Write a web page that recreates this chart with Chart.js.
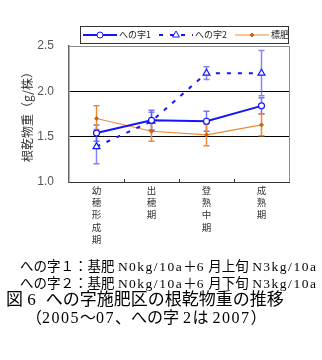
<!DOCTYPE html>
<html>
<head>
<meta charset="utf-8">
<script src="https://cdn.jsdelivr.net/npm/chart.js@4"></script>
<style>
  body { margin: 0; background: #fff; width: 322px; height: 360px; position: relative; overflow: hidden; }
  #wrap { position: absolute; left: 0; top: 0; width: 322px; height: 262px; }
  .note { position: absolute; white-space: nowrap; font-family: "Liberation Serif", "Noto Sans CJK JP", serif; color: #000; }
  .l { letter-spacing: 1.5px; }
  .n1 { left: 20px; top: 259px; font-size: 13.5px; line-height: 16px; }
  .n2 { left: 20px; top: 276px; font-size: 13.5px; line-height: 16px; }
  .cap { left: 6px; top: 291px; font-size: 17px; line-height: 18px; }
  .cap2 { left: 26px; top: 309px; font-size: 16px; line-height: 18px; }
</style>
</head>
<body>
<div id="wrap"><canvas id="chart" width="322" height="262"></canvas></div>
<div class="note n1">への字１：基肥 <span class="l">N0kg/10a</span>＋<span class="l">6</span> 月上旬 <span class="l">N3kg/10a</span></div>
<div class="note n2">への字２：基肥 <span class="l">N0kg/10a</span>＋<span class="l">6</span> 月下旬 <span class="l">N3kg/10a</span></div>
<div class="note cap">図 <span class="l">6</span>&nbsp; への字施肥区の根乾物重の推移</div>
<div class="note cap2">（<span class="l">2005</span>～<span class="l">07</span>、への字 <span class="l">2</span>は <span class="l">2007</span>）</div>
<script>
const stages = [['幼', '穂', '形', '成', '期'], ['出', '穂', '期'], ['登', '熟', '中', '期'], ['成', '熟', '期']];
const yTicks = [1.0, 1.5, 2.0, 2.5];
const hejiOne = [1.54, 1.68, 1.67, 1.84];
const hejiOneErr = [0.09, 0.11, 0.11, 0.09];
const hejiTwo = [1.39, 1.67, 2.20, 2.20];
const hejiTwoErr = [0.19, 0.10, 0.07, 0.25];
const hyohi = [1.70, 1.56, 1.52, 1.63];
const hyohiErr = [0.14, 0.11, 0.12, 0.12];

const BLUE = '#1414ff';
const ORANGE = '#f08a30';

// error bars under the markers
const errorBars = {
  id: 'errorBars',
  beforeDatasetsDraw(chart) {
    const ctx = chart.ctx, y = chart.scales.y;
    chart.data.datasets.forEach((ds, i) => {
      const meta = chart.getDatasetMeta(i);
      ctx.save();
      ctx.strokeStyle = ds.errColor;
      ctx.lineWidth = 1.5;
      meta.data.forEach((pt, j) => {
        const t = y.getPixelForValue(ds.data[j] + ds.err[j]);
        const b = y.getPixelForValue(ds.data[j] - ds.err[j]);
        ctx.beginPath();
        ctx.moveTo(pt.x, t); ctx.lineTo(pt.x, b);
        ctx.moveTo(pt.x - 3, t); ctx.lineTo(pt.x + 3, t);
        ctx.moveTo(pt.x - 3, b); ctx.lineTo(pt.x + 3, b);
        ctx.stroke();
      });
      ctx.restore();
    });
  }
};

// top/right frame and small inward ticks between categories
const frame = {
  id: 'frame',
  afterDraw(chart) {
    const { ctx, chartArea: a } = chart;
    const x = chart.scales.x;
    ctx.save();
    ctx.strokeStyle = '#8a8a8a';
    ctx.lineWidth = 1;
    ctx.beginPath();
    ctx.moveTo(a.left, a.top + 0.5); ctx.lineTo(a.right + 0.5, a.top + 0.5); ctx.lineTo(a.right + 0.5, a.bottom);
    ctx.stroke();
    ctx.strokeStyle = '#333';
    ctx.beginPath();
    for (let i = 1; i < stages.length; i++) {
      const px = Math.round((x.getPixelForValue(i - 1) + x.getPixelForValue(i)) / 2) + 0.5;
      ctx.moveTo(px, a.bottom); ctx.lineTo(px, a.bottom - 3);
    }
    ctx.stroke();
    ctx.restore();
  }
};

// boxed legend with line + marker samples
const boxLegend = {
  id: 'boxLegend',
  afterDraw(chart) {
    const ctx = chart.ctx;
    const left = 80, top = 26, w = 208, h = 17;
    ctx.save();
    ctx.fillStyle = '#fff';
    ctx.fillRect(left, top, w, h);
    ctx.strokeStyle = '#333';
    ctx.lineWidth = 1;
    ctx.strokeRect(left + 0.5, top + 0.5, w, h);
    ctx.font = '9px "Noto Sans CJK JP", sans-serif';
    ctx.textBaseline = 'middle';
    const cy = top + h / 2 + 0.5;
    let cx = left + 3;
    chart.data.datasets.forEach(ds => {
      const len = 34;
      ctx.strokeStyle = ds.borderColor;
      ctx.lineWidth = ds.borderWidth;
      ctx.setLineDash(ds.borderDash || []);
      ctx.beginPath(); ctx.moveTo(cx, cy); ctx.lineTo(cx + len, cy); ctx.stroke();
      ctx.setLineDash([]);
      ctx.fillStyle = ds.pointBackgroundColor;
      ctx.strokeStyle = ds.pointBorderColor;
      ctx.lineWidth = 1;
      Chart.helpers.drawPoint(ctx, { pointStyle: ds.pointStyle, radius: ds.pointRadius, borderWidth: 1 }, cx + len / 2, cy);
      ctx.fillStyle = '#222';
      ctx.fillText(ds.label, cx + len + 2, cy);
      cx += len + 4 + ctx.measureText(ds.label).width + 6;
    });
    ctx.restore();
  }
};

new Chart(document.getElementById('chart'), {
  type: 'line',
  data: {
    labels: stages,
    datasets: [{
      label: 'への字1',
      data: hejiOne,
      err: hejiOneErr,
      errColor: 'rgba(70, 70, 255, 0.75)',
      borderColor: BLUE,
      borderWidth: 2,
      pointStyle: 'circle',
      pointRadius: 3,
      pointBackgroundColor: '#fff',
      pointBorderColor: BLUE,
      pointBorderWidth: 1.2,
      tension: 0
    }, {
      label: 'への字2',
      data: hejiTwo,
      err: hejiTwoErr,
      errColor: 'rgba(90, 90, 255, 0.75)',
      borderColor: BLUE,
      borderWidth: 2,
      borderDash: [4, 7],
      pointStyle: 'triangle',
      pointRadius: 4,
      pointBackgroundColor: '#fff',
      pointBorderColor: BLUE,
      pointBorderWidth: 1.2,
      tension: 0
    }, {
      label: '標肥',
      data: hyohi,
      err: hyohiErr,
      errColor: ORANGE,
      borderColor: ORANGE,
      borderWidth: 1.2,
      pointStyle: 'rectRot',
      pointRadius: 2,
      pointBackgroundColor: '#c8641e',
      pointBorderColor: '#c8641e',
      pointBorderWidth: 1,
      tension: 0
    }]
  },
  options: {
    responsive: false,
    animation: false,
    layout: { padding: { top: 46, right: 33, left: 0, bottom: 0 } },
    plugins: { legend: { display: false }, tooltip: { enabled: false } },
    scales: {
      x: {
        offset: true,
        grid: { display: false, drawTicks: false },
        border: { color: '#333', width: 1 },
        ticks: {
          color: '#333',
          padding: 2,
          maxRotation: 0,
          autoSkip: false,
          font: { size: 9.5, family: '"Noto Sans CJK JP", sans-serif', lineHeight: 1.3 }
        },
        afterFit(scale) { scale.height = 80; }
      },
      y: {
        min: 1.0,
        max: 2.5,
        afterBuildTicks(scale) { scale.ticks = yTicks.map(v => ({ value: v })); },
        grid: {
          drawTicks: false,
          color: ctx => (ctx.tick && (ctx.tick.value === 1.5 || ctx.tick.value === 2.0)) ? '#000' : 'rgba(0,0,0,0)',
          lineWidth: 1
        },
        border: { color: '#666', width: 1.5 },
        ticks: {
          color: '#555',
          padding: 15,
          font: { size: 12, family: '"Liberation Sans", Arial, sans-serif' },
          callback: v => Number(v).toFixed(1)
        },
        title: {
          display: true,
          text: '根乾物重（g/株）',
          color: '#333',
          font: { size: 12, family: '"Noto Sans CJK JP", sans-serif' },
          padding: { top: 20, bottom: 0 }
        },
        afterFit(scale) { scale.width = 69; }
      }
    }
  },
  plugins: [errorBars, frame, boxLegend]
});
</script>
</body>
</html>
